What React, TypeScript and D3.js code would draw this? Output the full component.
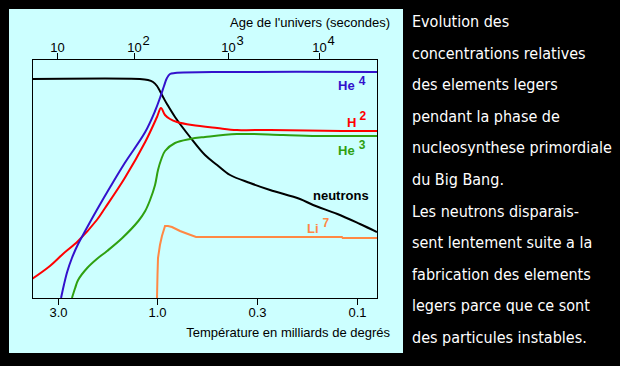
import React from 'react';
import * as d3 from 'd3';

// temperature (billions of degrees), relative abundance (log10, arbitrary origin)
const neutrons: [number, number][] = [
  [4.0, -1.0], [1.21, -1.0], [1.105, -1.05], [1.045, -1.15], [1.0, -1.35], [0.93, -1.9],
  [0.887, -2.25], [0.805, -2.9], [0.672, -3.9], [0.561, -4.8], [0.485, -5.3], [0.415, -5.8],
  [0.326, -6.2], [0.26, -6.55], [0.187, -7.0], [0.162, -7.3], [0.124, -7.75], [0.0968, -8.25],
  [0.0803, -8.65],
];
const he4: [number, number][] = [
  [2.9, -11.95], [2.81, -11.3], [2.71, -10.65], [2.57, -9.95], [2.4, -9.25], [2.22, -8.6],
  [1.95, -7.55], [1.67, -6.35], [1.43, -5.2], [1.14, -3.65], [1.022, -2.6], [0.965, -1.95],
  [0.919, -1.35], [0.887, -0.95], [0.855, -0.75], [0.805, -0.7], [0.43, -0.65], [0.0803, -0.65],
];
const h2: [number, number][] = [
  [4.0, -11.0], [3.28, -10.35], [2.84, -9.75], [2.4, -9.1], [1.95, -8.05], [1.78, -7.45],
  [1.43, -5.95], [1.14, -4.15], [1.0, -2.9], [0.953, -2.45], [0.908, -2.8], [0.855, -3.0],
  [0.786, -3.15], [0.656, -3.3], [0.485, -3.45], [0.382, -3.55], [0.26, -3.55], [0.118, -3.6],
  [0.0803, -3.6],
];
const he3: [number, number][] = [
  [2.57, -11.95], [2.48, -11.45], [2.4, -11.05], [2.17, -10.45], [1.95, -10.0], [1.74, -9.6],
  [1.47, -8.95], [1.23, -8.1], [1.14, -7.6], [1.08, -7.05], [1.022, -6.3], [0.988, -5.55],
  [0.953, -5.05], [0.908, -4.6], [0.805, -4.2], [0.672, -4.0], [0.561, -3.9], [0.382, -3.75],
  [0.225, -3.8], [0.145, -3.85], [0.0803, -3.85],
];
const li7: [number, number][] = [
  [1.0, -11.95], [0.994, -10.8], [0.988, -9.95], [0.965, -9.3], [0.942, -8.85], [0.908, -8.35],
  [0.876, -8.35], [0.835, -8.4], [0.758, -8.6], [0.689, -8.75], [0.625, -8.9], [0.118, -8.9],
  [0.117, -8.95], [0.0803, -8.95],
];

const tempTicks = [3.0, 1.0, 0.3, 0.1];
const tempLabels = ['3.0', '1.0', '0.3', '0.1'];
const ageTicks = [10, 100, 1000, 10000];
const ageExponents = ['', '2', '3', '4'];

const noteLines = [
  'Evolution des',
  'concentrations relatives',
  'des elements legers',
  'pendant la phase de',
  'nucleosynthese primordiale',
  'du Big Bang.',
  'Les neutrons disparais-',
  'sent lentement suite a la',
  'fabrication des elements',
  'legers parce que ce sont',
  'des particules instables.',
];

const W = 620;
const H = 366;
const plot = { left: 32, right: 377, top: 59, bottom: 298 };

const BLUE = '#3311cc';
const RED = '#ff0000';
const GREEN = '#2fa010';
const ORANGE = '#ff8844';

export default function App() {
  // the original axis is log(T), with its ticks spaced by hand
  const x = d3
    .scaleLinear()
    .domain([Math.log10(4.0), Math.log10(3), 0, Math.log10(0.3), -1, Math.log10(0.0803)])
    .range([plot.left, 58, 157, 257, 357, plot.right]);
  const xAge = d3.scaleLinear().domain([1, 2, 3, 4]).range([57, 134, 228, 319]);
  const y = d3.scaleLinear().domain([-11.95, 0]).range([plot.bottom, plot.top]);

  const line = d3
    .line<[number, number]>()
    .x((d) => x(Math.log10(d[0])))
    .y((d) => y(d[1]))
    .curve(d3.curveCatmullRom.alpha(0.5));
  const lineLin = d3
    .line<[number, number]>()
    .x((d) => x(Math.log10(d[0])))
    .y((d) => y(d[1]));

  const series = [
    { data: neutrons, color: '#000', path: line },
    { data: h2, color: RED, path: line },
    { data: he3, color: GREEN, path: line },
    { data: li7, color: ORANGE, path: lineLin },
    { data: he4, color: BLUE, path: line },
  ];

  const font = "'Liberation Sans', Arial, sans-serif";

  return (
    <svg width={W} height={H} style={{ position: 'absolute', left: 0, top: 0 }} fontFamily={font}>
      <rect width={W} height={H} fill="#000" />
      <rect x={9} y={9} width={394} height={344} fill="#ccffff" />
      <defs>
        <clipPath id="plot-clip">
          <rect x={plot.left} y={plot.top} width={plot.right - plot.left} height={plot.bottom - plot.top} />
        </clipPath>
      </defs>

      <g clipPath="url(#plot-clip)">
        {series.map((s, i) => (
          <path key={i} d={s.path(s.data) || ''} fill="none" stroke={s.color} strokeWidth={2} />
        ))}
      </g>

      <rect
        x={plot.left + 0.5}
        y={plot.top + 0.5}
        width={plot.right - plot.left}
        height={plot.bottom - plot.top}
        fill="none"
        stroke="#000"
      />

      {/* top axis: age */}
      {ageTicks.map((t, i) => {
        const px = Math.round(xAge(Math.log10(t))) + 0.5;
        return (
          <g key={t}>
            <line x1={px} x2={px} y1={plot.top} y2={plot.top - 6} stroke="#000" />
            <text x={px} y={52} fontSize={13} textAnchor="middle">
              10
            </text>
            {ageExponents[i] && (
              <text x={px + 8} y={45} fontSize={13}>
                {ageExponents[i]}
              </text>
            )}
          </g>
        );
      })}
      <text x={390} y={27} fontSize={13} textAnchor="end">
        Age de l'univers (secondes)
      </text>

      {/* bottom axis: temperature */}
      {tempTicks.map((t, i) => {
        const px = Math.round(x(Math.log10(t))) + 0.5;
        return (
          <g key={t}>
            <line x1={px} x2={px} y1={plot.bottom} y2={plot.bottom + 7} stroke="#000" />
            <text x={px} y={317} fontSize={13} textAnchor="middle">
              {tempLabels[i]}
            </text>
          </g>
        );
      })}
      <text x={390} y={337} fontSize={13} textAnchor="end">
        Température en milliards de degrés
      </text>

      {/* series labels */}
      <g fontSize={13} fontWeight="bold">
        <text x={338} y={90} fill={BLUE}>
          He<tspan dx={4} dy={-5} fontSize={12}>4</tspan>
        </text>
        <text x={347} y={127} fill={RED}>
          H<tspan dx={3} dy={-7} fontSize={12}>2</tspan>
        </text>
        <text x={338} y={155} fill={GREEN}>
          He<tspan dx={4} dy={-6} fontSize={12}>3</tspan>
        </text>
        <text x={313} y={200} fill="#000">
          neutrons
        </text>
        <text x={307} y={233} fill={ORANGE}>
          Li<tspan dx={4} dy={-6} fontSize={12}>7</tspan>
        </text>
      </g>

      {/* note */}
      <g fill="#fff" fontSize={16} fontFamily="'Liberation Sans Narrow', 'DejaVu Sans Condensed', sans-serif">
        {noteLines.map((l, i) => (
          <text key={i} x={412} y={27 + i * 31.6}>
            {l}
          </text>
        ))}
      </g>
    </svg>
  );
}
